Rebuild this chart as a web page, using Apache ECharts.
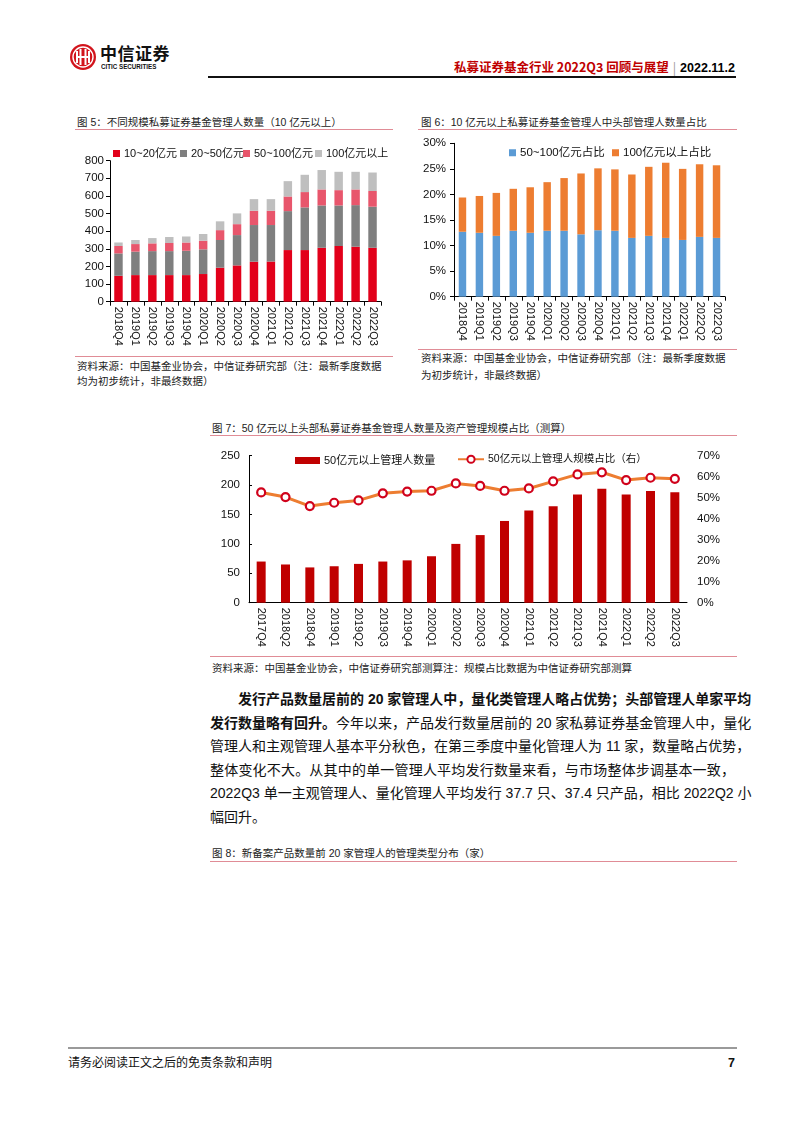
<!DOCTYPE html>
<html><head><meta charset="utf-8">
<script src="https://cdn.jsdelivr.net/npm/echarts@6/dist/echarts.min.js"></script>
<style>
body{margin:0;background:#fff;}
#page{position:relative;width:802px;height:1133px;overflow:hidden;font-family:'Liberation Sans','Noto Sans CJK SC',sans-serif;color:#000;background:#fff;}
.t{position:absolute;white-space:nowrap;line-height:12px;}
.cap{font-size:10.5px;color:#222;}
.hl{position:absolute;height:1px;background:#E08C96;}
.ch{position:absolute;}
.para{position:absolute;left:210px;top:688px;width:525px;font-size:14px;line-height:23.6px;font-family:'Liberation Sans','Noto Sans CJK SC',sans-serif;color:#111;}
.para span.l{display:block;text-align:justify;text-align-last:justify;white-space:nowrap;}
.para span.last{display:block;text-align:left;}
</style>
</head><body>
<div id="page">
  <!-- header -->
  <svg style="position:absolute;left:69px;top:43px" width="28" height="28" viewBox="0 0 28 28">
    <circle cx="14" cy="14" r="13" fill="#D2141C"/>
    <circle cx="14" cy="14" r="10" fill="none" stroke="#fff" stroke-width="1.4"/>
    <rect x="7" y="8" width="2" height="12" fill="#fff"/>
    <rect x="10.5" y="6" width="2" height="16" fill="#fff"/>
    <rect x="15.5" y="6" width="2" height="16" fill="#fff"/>
    <rect x="19" y="8" width="2" height="12" fill="#fff"/>
    <rect x="9" y="13" width="10" height="2" fill="#fff"/>
  </svg>
  <div class="t" style="left:100px;top:44px;font-size:17px;line-height:18px;font-weight:bold;font-family:'Noto Sans CJK SC';color:#111;letter-spacing:0.5px">中信证券</div>
  <div class="t" style="left:101px;top:63px;font-size:7.6px;line-height:8px;font-weight:bold;color:#111;transform:scaleX(0.82);transform-origin:left">CITIC SECURITIES</div>
  <div class="t" style="right:67px;top:60px;font-size:12.5px;line-height:14px;font-weight:bold;font-family:'Noto Sans CJK SC','Liberation Sans';">
    <span style="color:#C00000">私募证券基金行业 2022Q3 回顾与展望</span><span style="color:#999;font-weight:normal;margin:0 4px">|</span><span style="color:#000;font-family:'Liberation Sans'">2022.11.2</span>
  </div>
  <div style="position:absolute;left:208px;top:76px;width:528px;height:2px;background:#111"></div>

  <!-- figure 5 -->
  <div class="t cap" style="left:77px;top:116px">图 5：不同规模私募证券基金管理人数量（10 亿元以上）</div>
  <div class="hl" style="left:75px;top:129px;width:318px"></div>
  <div id="c5" class="ch" style="left:70px;top:135px;width:330px;height:215px"></div>
  <div class="hl" style="left:75px;top:356px;width:318px"></div>
  <div class="t cap" style="left:77px;top:360px">资料来源：中国基金业协会，中信证券研究部（注：最新季度数据</div>
  <div class="t cap" style="left:77px;top:375px">均为初步统计，非最终数据）</div>

  <!-- figure 6 -->
  <div class="t cap" style="left:421px;top:116px">图 6：10 亿元以上私募证券基金管理人中头部管理人数量占比</div>
  <div class="hl" style="left:418px;top:129px;width:319px"></div>
  <div id="c6" class="ch" style="left:410px;top:135px;width:330px;height:213px"></div>
  <div class="hl" style="left:418px;top:349px;width:319px"></div>
  <div class="t cap" style="left:421px;top:352px">资料来源：中国基金业协会，中信证券研究部（注：最新季度数据</div>
  <div class="t cap" style="left:421px;top:369px">为初步统计，非最终数据）</div>

  <!-- figure 7 -->
  <div class="t cap" style="left:212px;top:422px">图 7：50 亿元以上头部私募证券基金管理人数量及资产管理规模占比（测算）</div>
  <div class="hl" style="left:210px;top:435px;width:527px"></div>
  <div id="c7" class="ch" style="left:205px;top:440px;width:530px;height:212px"></div>
  <div class="hl" style="left:210px;top:656px;width:527px"></div>
  <div class="t cap" style="left:212px;top:662px">资料来源：中国基金业协会，中信证券研究部测算注：规模占比数据为中信证券研究部测算</div>

  <!-- paragraph -->
  <div class="para">
    <span class="l" style="padding-left:28px"><b>发行产品数量居前的 20 家管理人中，量化类管理人略占优势；头部管理人单家平均</b></span>
    <span class="l"><b>发行数量略有回升。</b>今年以来，产品发行数量居前的 20 家私募证券基金管理人中，量化</span>
    <span class="l">管理人和主观管理人基本平分秋色，在第三季度中量化管理人为 11 家，数量略占优势，</span>
    <span class="l">整体变化不大。从其中的单一管理人平均发行数量来看，与市场整体步调基本一致，</span>
    <span class="l">2022Q3 单一主观管理人、量化管理人平均发行 37.7 只、37.4 只产品，相比 2022Q2 小</span>
    <span class="last">幅回升。</span>
  </div>

  <!-- figure 8 title -->
  <div class="t cap" style="left:212px;top:847px">图 8：新备案产品数量前 20 家管理人的管理类型分布（家）</div>
  <div class="hl" style="left:210px;top:861px;width:527px"></div>

  <!-- footer -->
  <div style="position:absolute;left:68px;top:1047px;width:669px;height:1.5px;background:#9a9a9a"></div>
  <div class="t" style="left:68px;top:1057px;font-size:12px;line-height:13px;color:#111">请务必阅读正文之后的免责条款和声明</div>
  <div class="t" style="right:67px;top:1057px;font-size:12.5px;line-height:13px;font-weight:bold;color:#111">7</div>
</div>

<script>
// ---------- data ----------
const cats5 = ['2018Q4','2019Q1','2019Q2','2019Q3','2019Q4','2020Q1','2020Q2','2020Q3','2020Q4','2021Q1','2021Q2','2021Q3','2021Q4','2022Q1','2022Q2','2022Q3'];
const names5 = ['10~20亿元','20~50亿元','50~100亿元','100亿元以上'];
const v5_10_20   = [147,151,151,151,151,157,193,206,227,228,293,293,306,316,312,306];
const v5_20_50   = [127,133,136,136,138,140,157,172,208,207,221,242,240,230,236,233];
const v5_50_100  = [42,43,44,46,47,49,56,62,81,81,83,87,91,87,89,89];
const v5_100plus = [20,23,30,34,34,38,50,61,66,66,87,98,110,104,100,105];

const cats6 = cats5;
const names6 = ['50~100亿元占比','100亿元以上占比'];
const v6_50_100  = [12.7,12.5,11.9,12.9,12.5,12.9,12.9,12.2,13.0,12.9,11.5,11.9,11.5,11.1,11.7,11.5];
const v6_100plus = [6.7,7.2,8.4,8.2,8.9,9.5,10.3,11.9,12.1,12.0,12.4,13.5,14.7,13.9,14.2,14.2];

const cats7 = ['2017Q4','2018Q2','2018Q4','2019Q1','2019Q2','2019Q3','2019Q4','2020Q1','2020Q2','2020Q3','2020Q4','2021Q1','2021Q2','2021Q3','2021Q4','2022Q1','2022Q2','2022Q3'];
const names7 = ['50亿元以上管理人数量','50亿元以上管理人规模占比（右）'];
const v7_count = [70,65,60,62,66,70,72,79,100,115,139,157,164,184,194,184,190,188];
const v7_share = [52.5,50.3,46.0,47.6,48.7,52.1,52.9,53.3,56.8,55.6,53.3,54.4,57.8,61.1,62.1,58.4,59.5,59.0];

// ---------- styles ----------
const FONT = "'Liberation Sans','Noto Sans CJK SC',sans-serif";
const AX = '#000';
function legendAt(name, left, top, w, h, fs){
  return {data:[name], left:left, top:top, itemWidth:w, itemHeight:h, itemGap:0, padding:0,
    textStyle:{fontSize:fs, color:'#111', fontFamily:FONT, padding:[0,0,0,-1]}};
}
function catAxis(data, fs, tick){
  return {type:'category', data:data,
    axisLine:{show:true, lineStyle:{color:AX, width:1}},
    axisTick:{show:tick, length:4, lineStyle:{color:AX}},
    axisLabel:{rotate:-90, fontSize:fs, color:'#111', margin:5, interval:0, fontFamily:FONT}};
}

// ---------- figure 5 ----------
const c5 = echarts.init(document.getElementById('c5'), null, {renderer:'canvas'});
const colors5 = ['#E2001A','#7F7F7F','#E8566C','#BFBFBF'];
const vals5 = [v5_10_20, v5_20_50, v5_50_100, v5_100plus];
c5.setOption({
  animation:false,
  textStyle:{fontFamily:FONT},
  legend:[
    Object.assign(legendAt(names5[0],43,13,7,7,11),{icon:'rect'}),
    Object.assign(legendAt(names5[1],110,13,7,7,11),{icon:'rect'}),
    Object.assign(legendAt(names5[2],173,13,7,7,11),{icon:'rect'}),
    Object.assign(legendAt(names5[3],245,13,7,7,11),{icon:'rect'})
  ],
  grid:{left:40, top:25.7, width:271, height:141, containLabel:false, outerBoundsMode:'none'},
  xAxis:catAxis(cats5, 11, true),
  yAxis:{type:'value', min:0, max:800, interval:100,
    axisLine:{show:true, lineStyle:{color:AX}}, axisTick:{show:true, length:4, lineStyle:{color:AX}},
    splitLine:{show:false}, axisLabel:{fontSize:11.5, color:'#111', margin:6}},
  series: names5.map((n,i)=>({type:'bar', name:n, stack:'s', data:vals5[i], barWidth:'50%',
    itemStyle:{color:colors5[i]}}))
});

// ---------- figure 6 ----------
const c6 = echarts.init(document.getElementById('c6'), null, {renderer:'canvas'});
const colors6 = ['#5B9BD5','#ED7D31'];
const vals6 = [v6_50_100, v6_100plus];
c6.setOption({
  animation:false,
  textStyle:{fontFamily:FONT},
  legend:[
    Object.assign(legendAt(names6[0],99,12,7,7,11.5),{icon:'rect'}),
    Object.assign(legendAt(names6[1],202,12,7,7,11.5),{icon:'rect'})
  ],
  grid:{left:44, top:8.3, width:271, height:153.4, containLabel:false, outerBoundsMode:'none'},
  xAxis:catAxis(cats6, 11, true),
  yAxis:{type:'value', min:0, max:30, interval:5,
    axisLine:{show:true, lineStyle:{color:AX}}, axisTick:{show:true, length:4, lineStyle:{color:AX}},
    splitLine:{show:false}, axisLabel:{fontSize:11.5, color:'#111', margin:8, formatter:'{value}%'}},
  series: names6.map((n,i)=>({type:'bar', name:n, stack:'s', data:vals6[i], barWidth:'44%',
    itemStyle:{color:colors6[i]}}))
});

// ---------- figure 7 ----------
const c7 = echarts.init(document.getElementById('c7'), null, {renderer:'canvas'});
c7.setOption({
  animation:false,
  textStyle:{fontFamily:FONT},
  legend:[
    Object.assign(legendAt(names7[0],90,15,25,7,11),{icon:'rect'}),
    legendAt(names7[1],252,14,26,9,10.5)
  ],
  grid:{left:44, top:15.7, width:438, height:147, containLabel:false, outerBoundsMode:'none'},
  xAxis:catAxis(cats7, 11, false),
  yAxis:[
    {type:'value', min:0, max:250, interval:50,
      axisLine:{show:true, lineStyle:{color:AX}}, axisTick:{show:true, inside:true, length:3, lineStyle:{color:AX}},
      splitLine:{show:false}, axisLabel:{fontSize:11.5, color:'#111', margin:9}},
    {type:'value', min:0, max:70, interval:10, position:'right',
      axisLine:{show:false}, axisTick:{show:false},
      splitLine:{show:false}, axisLabel:{fontSize:11.5, color:'#111', margin:10, formatter:'{value}%'}}
  ],
  series:[
    {type:'bar', name:names7[0], data:v7_count, yAxisIndex:0, barWidth:'37%', itemStyle:{color:'#C00000'}},
    {type:'line', name:names7[1], data:v7_share, yAxisIndex:1, z:5,
      lineStyle:{color:'#ED7D31', width:3},
      symbol:'circle', symbolSize:8,
      itemStyle:{color:'#fff', borderColor:'#D0021B', borderWidth:2.2}}
  ]
});
</script>
</body></html>
